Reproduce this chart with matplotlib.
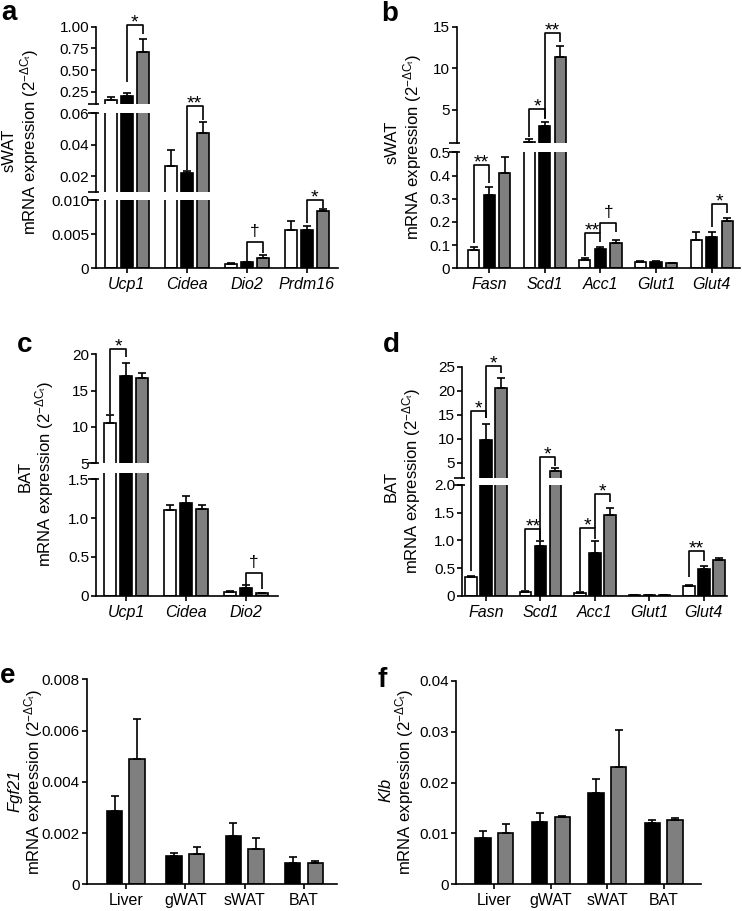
import numpy as np
import matplotlib
matplotlib.use('Agg')
import matplotlib.pyplot as plt
from matplotlib.lines import Line2D

plt.rcParams['font.family'] = ['Liberation Sans', 'DejaVu Sans']
plt.rcParams['mathtext.fontset'] = 'custom'
plt.rcParams['mathtext.rm'] = 'Liberation Sans'
plt.rcParams['mathtext.it'] = 'Liberation Sans:italic'

WHITE, BLACK, GREY = 'white', 'black', '#7f7f7f'

# ---- data (means and SEM) ----
a_genes = ['Ucp1', 'Cidea', 'Dio2', 'Prdm16']
a_white = [0.15, 0.0264, 0.00063, 0.0056]
a_white_err = [0.04, 0.010, 0.0001, 0.0013]
a_black = [0.20, 0.0217, 0.00088, 0.0056]
a_black_err = [0.04, 0.0017, 0.0001, 0.0006]
a_grey = [0.71, 0.0477, 0.00156, 0.0084]
a_grey_err = [0.15, 0.007, 0.0004, 0.0003]

b_genes = ['Fasn', 'Scd1', 'Acc1', 'Glut1', 'Glut4']
b_white = [0.08, 1.2, 0.037, 0.028, 0.12]
b_white_err = [0.012, 0.35, 0.008, 0.004, 0.035]
b_black = [0.315, 3.1, 0.085, 0.027, 0.135]
b_black_err = [0.035, 0.5, 0.006, 0.003, 0.023]
b_grey = [0.41, 11.4, 0.11, 0.022, 0.205]
b_grey_err = [0.07, 1.3, 0.01, 0.002, 0.01]

c_genes = ['Ucp1', 'Cidea', 'Dio2']
c_white = [10.5, 1.11, 0.05]
c_white_err = [1.2, 0.06, 0.01]
c_black = [17.0, 1.20, 0.10]
c_black_err = [1.8, 0.08, 0.035]
c_grey = [16.7, 1.12, 0.03]
c_grey_err = [0.7, 0.05, 0.01]

d_genes = ['Fasn', 'Scd1', 'Acc1', 'Glut1', 'Glut4']
d_white = [0.33, 0.06, 0.05, 0.01, 0.18]
d_white_err = [0.02, 0.02, 0.01, 0.003, 0.015]
d_black = [9.8, 0.89, 0.78, 0.01, 0.49]
d_black_err = [3.2, 0.09, 0.21, 0.003, 0.05]
d_grey = [20.6, 3.2, 1.46, 0.01, 0.64]
d_grey_err = [2.0, 0.6, 0.13, 0.003, 0.05]

tissues = ['Liver', 'gWAT', 'sWAT', 'BAT']
e_black = [0.00285, 0.0011, 0.0019, 0.00085]
e_black_err = [0.0006, 0.00012, 0.0005, 0.0002]
e_grey = [0.0049, 0.0012, 0.00138, 0.00085]
e_grey_err = [0.00155, 0.00025, 0.00042, 0.00007]

f_black = [0.0091, 0.0122, 0.0180, 0.0120]
f_black_err = [0.0013, 0.0018, 0.0026, 0.0007]
f_grey = [0.0101, 0.0132, 0.0231, 0.0126]
f_grey_err = [0.0018, 0.0002, 0.0073, 0.0004]

# significance brackets: (category, left bar, right bar, (segment, y) left foot, top, right foot, label)
a_sig = [(0, 1, 2, (2, 0.36), (2, 1.02), (2, 0.91), '*'),
         (1, 1, 2, (1, 0.0238), (1, 0.0647), (1, 0.0557), '**'),
         (2, 1, 2, (0, 0.0011), (0, 0.0038), (0, 0.0022), '\u2020'),
         (3, 1, 2, (0, 0.0067), (0, 0.0101), (0, 0.0089), '*')]
b_sig = [(0, 0, 1, (0, 0.108), (0, 0.445), (0, 0.366), '**'),
         (1, 0, 1, (1, 1.8), (1, 5.08), (1, 3.9), '*'),
         (1, 1, 2, (1, 4.0), (1, 14.2), (1, 13.2), '**'),
         (2, 0, 1, (0, 0.053), (0, 0.151), (0, 0.115), '**'),
         (2, 1, 2, (0, 0.151), (0, 0.195), (0, 0.155), '\u2020'),
         (4, 1, 2, (0, 0.18), (0, 0.276), (0, 0.237), '*')]
c_sig = [(0, 0, 1, (1, 11.8), (1, 20.7), (1, 19.6), '*'),
         (2, 1, 2, (0, 0.14), (0, 0.287), (0, 0.08), '\u2020')]
d_sig = [(0, 0, 1, (0, 0.45), (1, 15.8), (1, 14.3), '*'),
         (0, 1, 2, (1, 14.3), (1, 25.1), (1, 23.6), '*'),
         (1, 0, 1, (0, 0.1), (0, 1.2), (0, 1.0), '**'),
         (1, 1, 2, (0, 1.0), (1, 6.1), (1, 4.4), '*'),
         (2, 0, 1, (0, 0.09), (0, 1.22), (0, 1.02), '*'),
         (2, 1, 2, (0, 1.22), (0, 1.84), (0, 1.7), '*'),
         (4, 0, 1, (0, 0.34), (0, 0.8), (0, 0.62), '**')]

W, H = 742, 911
fig = plt.figure(figsize=(W / 100, H / 100), dpi=100)
LW = 1.2
TICK_FS = 11
LAB_FS = 12
YLAB = 'mRNA expression (2$^{-\\Delta \\mathrm{C}_\\mathrm{t}}$)'


def px_axes(x0, x1, ytop, ybot):
    return fig.add_axes([x0 / W, 1 - ybot / H, (x1 - x0) / W, (ybot - ytop) / H])


def to_fig(ax, x, y):
    return fig.transFigure.inverted().transform(ax.transData.transform((x, y)))


def fig_line(xs, ys):
    fig.add_artist(Line2D(xs, ys, transform=fig.transFigure, color='black', lw=LW,
                          solid_capstyle='butt'))


def panel(x0, x1, segs, cats, series, xlim, width, offset, italic):
    axes = []
    n = len(series)
    for i, (ytop, ybot, ylim, ticks, labels, top) in enumerate(segs):
        ax = px_axes(x0, x1, ytop, ybot)
        for j, (m, s, col) in enumerate(series):
            m = np.array(m)
            s = np.array(s)
            pos = np.arange(len(cats)) + (j - (n - 1) / 2) * offset
            ax.bar(pos, m, width, color=col, edgecolor='black', linewidth=LW, zorder=2)
            keep = (m + s) > ylim[0]
            if keep.any():
                ax.errorbar(pos[keep], m[keep], yerr=[np.zeros(keep.sum()), s[keep]], fmt='none',
                            ecolor='black', elinewidth=LW, capsize=2.6, capthick=LW, zorder=3)
        ax.set_xlim(xlim)
        ax.set_ylim(ylim)
        ax.patch.set_visible(False)
        for sp in ['top', 'right']:
            ax.spines[sp].set_visible(False)
        ax.spines['left'].set_linewidth(LW)
        ax.spines['left'].set_bounds(ylim[0], top)
        ax.set_yticks(ticks)
        ax.set_yticklabels(labels)
        ax.tick_params(axis='y', length=3.5, width=LW, labelsize=TICK_FS, pad=1.5)
        if i == 0:
            ax.spines['bottom'].set_linewidth(LW)
            ax.set_xticks(np.arange(len(cats)))
            ax.set_xticklabels(cats, style='italic' if italic else 'normal', fontsize=11.5)
            ax.tick_params(axis='x', length=3.5, width=LW, pad=3)
        else:
            ax.spines['bottom'].set_visible(False)
            ax.set_xticks([])
        axes.append(ax)
    # break marks on the y axis
    for i, ax in enumerate(axes):
        marks = []
        if i > 0:
            marks.append(ax.get_ylim()[0])
        if i < len(axes) - 1:
            marks.append(segs[i][5])
        for yv in marks:
            px, py = to_fig(ax, xlim[0], yv)
            fig_line([px - 8 / W, px + 2.5 / W], [py, py])
    return axes


def brackets(axes, sig, n, offset):
    for cat, li, ri, (sl, yl), (st, yt), (sr, yr), lab in sig:
        xl = cat + (li - (n - 1) / 2) * offset
        xr = cat + (ri - (n - 1) / 2) * offset
        p1 = to_fig(axes[sl], xl, yl)
        p2 = to_fig(axes[st], xl, yt)
        p3 = to_fig(axes[st], xr, yt)
        p4 = to_fig(axes[sr], xr, yr)
        fig_line([p1[0], p2[0], p3[0], p4[0]], [p1[1], p2[1], p3[1], p4[1]])
        if lab == '\u2020':
            fig.text((p2[0] + p3[0]) / 2, p2[1] + 6 / H, lab, ha='center', va='baseline', fontsize=12.5)
        else:
            fig.text((p2[0] + p3[0]) / 2, p2[1] - 2.5 / H, lab, ha='center', va='baseline', fontsize=14)


def ylabels(x1, x2, yc, first, first_italic=False, yc1=None):
    fig.text(x1 / W, 1 - (yc1 if yc1 else yc) / H, first, rotation=90, ha='center', va='center',
             fontsize=LAB_FS, style='italic' if first_italic else 'normal')
    fig.text(x2 / W, 1 - yc / H, YLAB, rotation=90, ha='center', va='center', fontsize=LAB_FS)


# ---- panel a ----
a_axes = panel(96, 338,
               [(200.3, 268.3, (0, 0.010), [0, 0.005, 0.010], ['0', '0.005', '0.010'], 0.010),
                (113.3, 191.7, (0.01, 0.06), [0.02, 0.04, 0.06], ['0.02', '0.04', '0.06'], 0.06),
                (26.7, 104, (0.108, 1.0), [0.25, 0.5, 0.75, 1.0], ['0.25', '0.50', '0.75', '1.00'], 1.0)],
               a_genes, [(a_white, a_white_err, WHITE), (a_black, a_black_err, BLACK),
                         (a_grey, a_grey_err, GREY)],
               (-0.51, 3.52), 0.2, 0.267, True)
brackets(a_axes, a_sig, 3, 0.267)
ylabels(9, 30, 142, 'sWAT', yc1=150)

# ---- panel b ----
b_axes = panel(457, 740,
               [(152.3, 268.3, (0, 0.5), [0, 0.1, 0.2, 0.3, 0.4, 0.5],
                 ['0', '0.1', '0.2', '0.3', '0.4', '0.5'], 0.5),
                (26.7, 143.3, (1.0, 15), [5, 10, 15], ['5', '10', '15'], 15)],
               b_genes, [(b_white, b_white_err, WHITE), (b_black, b_black_err, BLACK),
                         (b_grey, b_grey_err, GREY)],
               (-0.58, 4.51), 0.2, 0.28, True)
brackets(b_axes, b_sig, 3, 0.28)
ylabels(392, 413, 147, 'sWAT', yc1=142)

# ---- panel c ----
c_axes = panel(96, 278.3,
               [(473.3, 595.7, (0, 1.577), [0, 0.5, 1.0, 1.5], ['0', '0.5', '1.0', '1.5'], 1.5),
                (354.3, 463.3, (5, 20), [5, 10, 15, 20], ['5', '10', '15', '20'], 20)],
               c_genes, [(c_white, c_white_err, WHITE), (c_black, c_black_err, BLACK),
                         (c_grey, c_grey_err, GREY)],
               (-0.5, 2.54), 0.2, 0.267, True)
brackets(c_axes, c_sig, 3, 0.267)
ylabels(25, 45, 474, 'BAT', yc1=476)

# ---- panel d ----
d_axes = panel(462, 726.7,
               [(485, 595.7, (0, 2.0), [0, 0.5, 1.0, 1.5, 2.0], ['0', '0.5', '1.0', '1.5', '2.0'], 2.0),
                (366.7, 478.3, (1.75, 25), [5, 10, 15, 20, 25], ['5', '10', '15', '20', '25'], 25)],
               d_genes, [(d_white, d_white_err, WHITE), (d_black, d_black_err, BLACK),
                         (d_grey, d_grey_err, GREY)],
               (-0.44, 4.42), 0.21, 0.275, True)
brackets(d_axes, d_sig, 3, 0.275)
ylabels(391, 412, 481, 'BAT', yc1=486)

# ---- panel e ----
panel(86.7, 336.7,
      [(679.3, 884.3, (0, 0.008), [0, 0.002, 0.004, 0.006, 0.008],
        ['0', '0.002', '0.004', '0.006', '0.008'], 0.008)],
      tissues, [(e_black, e_black_err, BLACK), (e_grey, e_grey_err, GREY)],
      (-0.66, 3.55), 0.26, 0.38, False)
ylabels(15, 34, 782, 'Fgf21', first_italic=True, yc1=791)

# ---- panel f ----
panel(456, 701,
      [(680.7, 884.3, (0, 0.04), [0, 0.01, 0.02, 0.03, 0.04],
        ['0', '0.01', '0.02', '0.03', '0.04'], 0.04)],
      tissues, [(f_black, f_black_err, BLACK), (f_grey, f_grey_err, GREY)],
      (-0.68, 3.66), 0.27, 0.4, False)
ylabels(386, 405, 782, 'Klb', first_italic=True, yc1=790)

# panel letters
for lab, x, y in [('a', 1, 20), ('b', 381, 21), ('c', 17, 352),
                  ('d', 383, 352), ('e', 0, 683), ('f', 378, 687)]:
    fig.text(x / W, 1 - y / H, lab, fontsize=20, fontweight='bold', ha='left', va='baseline')

fig.savefig('out.png', dpi=100)
